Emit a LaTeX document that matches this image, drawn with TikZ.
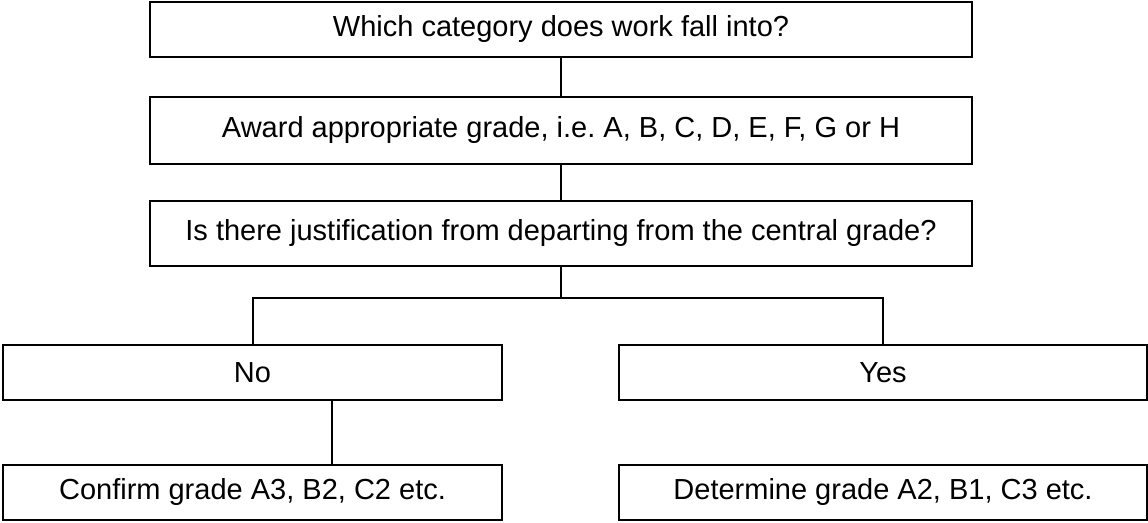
\documentclass[tikz,border=0pt]{standalone}
\usepackage{fontspec}
\setmainfont{Liberation Sans}
\frenchspacing
\begin{document}
\begin{tikzpicture}[x=0.5pt, y=-0.5pt, line width=1pt,
  font=\fontsize{14.5}{17}\selectfont,
  q/.style={draw, line width=1pt, inner sep=0pt, align=center, minimum height=27.5pt}]
  \useasboundingbox (0,0) rectangle (1148,523);
  \node[q, minimum width=411pt] (cat) at (561,29.5) {Which category does work fall into?};
  \node[q, minimum width=411pt, minimum height=33.5pt] (grade) at (561,130.5) {Award appropriate grade, i.e.\ A, B, C, D, E, F, G or H};
  \node[q, minimum width=411pt, minimum height=32.5pt] (just) at (561,233.5) {Is there justification from departing from the central grade?};
  \node[q, minimum width=249.5pt] (no) at (252.5,372.5) {No};
  \node[q, minimum width=264pt] (yes) at (883,372.5) {Yes};
  \node[q, minimum width=249.5pt] (conf) at (252.5,492.5) {Confirm grade A3, B2, C2 etc.};
  \node[q, minimum width=264pt] (det) at (883,492.5) {Determine grade A2, B1, C3 etc.};
  \coordinate (split) at (561,298);
  \draw (cat) -- (grade);
  \draw (grade) -- (just);
  \draw (just) -- (split);
  \draw (split) -| (no);
  \draw (split) -| (yes);
  \draw ([xshift=39.75pt]no.south) -- ([xshift=39.75pt]conf.north);
\end{tikzpicture}
\end{document}
